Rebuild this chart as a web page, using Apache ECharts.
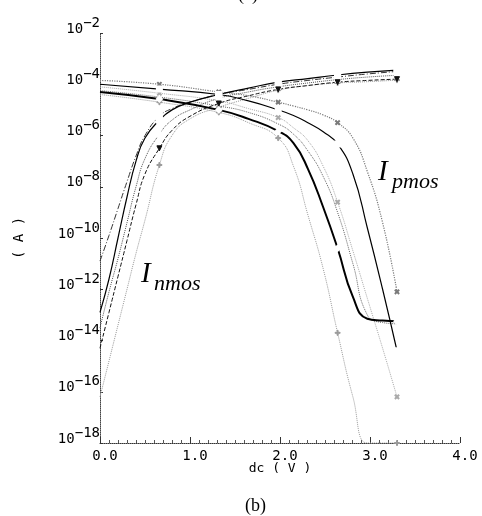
<!DOCTYPE html>
<html>
<head>
<meta charset="utf-8">
<script src="https://cdn.jsdelivr.net/npm/echarts@6/dist/echarts.min.js"></script>
<style>
  html, body { margin: 0; background: #fff; }
  #chart { width: 482px; height: 516px; }
</style>
</head>
<body>
<div id="chart"></div>
<script>
// dc sweep (V) and currents as log10(I / A)
const vN = [0, 0.1, 0.2, 0.3, 0.4, 0.5, 0.66, 0.8, 1.0, 1.32, 1.65, 1.98, 2.31, 2.64, 2.97, 3.3];
const vP = [0, 0.66, 1.32, 1.65, 1.98, 2.15, 2.31, 2.48, 2.64, 2.81, 2.97, 3.14, 3.3];
const markV = [0.66, 1.32, 1.98, 2.64, 3.3];

// nmos curves
const nA = [-10.9, -9.9, -8.85, -7.8, -6.8, -6.0, -5.25, -4.95, -4.7, -4.4, -4.2, -4.0, -3.85, -3.72, -3.6, -3.5];
const nB = [-12.9, -11.6, -10.0, -8.4, -7.0, -6.1, -5.4, -5.0, -4.7, -4.4, -4.15, -3.92, -3.78, -3.64, -3.53, -3.45];
const nC = [-13.5, -12.1, -10.8, -9.4, -8.0, -6.9, -5.95, -5.4, -5.0, -4.55, -4.3, -4.1, -3.95, -3.82, -3.72, -3.65];
const nD = [-14.3, -12.9, -11.5, -10.1, -8.7, -7.5, -6.5, -5.8, -5.25, -4.75, -4.45, -4.2, -4.05, -3.92, -3.85, -3.8];
const nE = [-16.2, -14.8, -13.4, -12.0, -10.6, -9.3, -7.15, -6.0, -5.35, -4.9, -4.55, -4.23, -4.05, -3.95, -3.9, -3.84];

// pmos curves
const p1 = [-4.4, -4.7, -5.1, -5.5, -6.1, -7.2, -9.1, -11.2, -13.7, -16.2, -18, -18, -18];
const p2 = [-4.3, -4.58, -5.0, -5.35, -5.83, -6.3, -7.3, -8.8, -10.4, -12.3, -13.15, -13.22, -13.25];
const p7 = [-4.25, -4.5, -4.85, -5.1, -5.55, -5.95, -6.6, -7.6, -9.0, -11.0, -13.0, -13.3, -13.35];
const p6 = [-4.1, -4.35, -4.65, -4.95, -5.3, -5.7, -6.2, -7.2, -8.6, -10.5, -12.35, -14.3, -16.2];
const p4 = [-4.0, -4.19, -4.4, -4.65, -5.0, -5.22, -5.5, -5.85, -6.33, -7.5, -9.6, -12.0, -14.4];
const p5 = [-3.85, -4.0, -4.3, -4.45, -4.7, -4.85, -5.0, -5.2, -5.5, -6.1, -7.4, -9.4, -12.1];

const PLUS = 'path://M4,0H6V4H10V6H6V10H4V6H0V4H4Z';

function curve(name, xs, ys, color, width, type, symbol, rot) {
  return {
    name: name,
    type: 'line',
    smooth: 0.5,
    symbol: symbol,
    symbolSize: 5,
    symbolRotate: rot || 0,
    itemStyle: { color: symbol.indexOf('empty') === 0 ? '#fff' : color, borderColor: color, borderWidth: 1 },
    lineStyle: { color: color, width: width, type: type },
    emphasis: { disabled: true },
    data: xs.map(function (v, i) {
      const d = { value: [v, ys[i]] };
      if (markV.indexOf(v) < 0) d.symbol = 'none';
      return d;
    })
  };
}

const chart = echarts.init(document.getElementById('chart'));
chart.setOption({
  backgroundColor: '#fff',
  animation: false,
  grid: { left: 100, right: 22, top: 33, bottom: 73 },
  xAxis: {
    type: 'value',
    min: 0,
    max: 4,
    interval: 1,
    name: 'dc ( V )',
    nameLocation: 'middle',
    nameGap: 19,
    nameMoveOverlap: false,
    nameTextStyle: { fontFamily: 'DejaVu Sans Mono', fontSize: 13, color: '#000' },
    axisLine: { lineStyle: { color: '#333', type: 'dotted' } },
    axisTick: { inside: true, length: 6, lineStyle: { color: '#333' } },
    minorTick: { show: true, splitNumber: 10, length: 3, lineStyle: { color: '#555' } },
    splitLine: { show: false },
    axisLabel: {
      margin: 6,
      padding: [0, 0, 0, 10],
      fontFamily: 'DejaVu Sans Mono',
      fontSize: 14,
      color: '#000',
      formatter: function (v) { return v.toFixed(1); }
    }
  },
  yAxis: {
    type: 'value',
    min: -18,
    max: -2,
    interval: 2,
    name: '( A )',
    nameLocation: 'middle',
    nameGap: 74,
    nameMoveOverlap: false,
    nameTextStyle: { fontFamily: 'DejaVu Sans Mono', fontSize: 14, color: '#000' },
    axisLine: { lineStyle: { color: '#444', type: 'dotted' } },
    axisTick: { inside: true, length: 3, lineStyle: { color: '#333' } },
    splitLine: { show: false },
    axisLabel: {
      margin: 0,
      padding: [0, 0, 14, 0],
      formatter: function (v) { return '{b|10}{s|\u2212' + Math.abs(v) + '}'; },
      rich: {
        b: { fontFamily: 'DejaVu Sans Mono', fontSize: 14, lineHeight: 20, verticalAlign: 'bottom', color: '#000' },
        s: { fontFamily: 'DejaVu Sans Mono', fontSize: 14, lineHeight: 14, verticalAlign: 'top', color: '#000' }
      }
    }
  },
  graphic: [
    { type: 'text', left: 238, top: -14, style: { text: '(a)', font: '18px "Liberation Serif"', fill: '#000' } },
    { type: 'text', left: 378, top: 158, style: { text: 'I', font: 'italic 29px "Liberation Serif"', fill: '#000' } },
    { type: 'text', left: 392, top: 171, style: { text: 'pmos', font: 'italic 22px "Liberation Serif"', fill: '#000' } },
    { type: 'text', left: 141, top: 260, style: { text: 'I', font: 'italic 29px "Liberation Serif"', fill: '#000' } },
    { type: 'text', left: 154, top: 273, style: { text: 'nmos', font: 'italic 22px "Liberation Serif"', fill: '#000' } },
    { type: 'text', left: 245, top: 497, style: { text: '(b)', font: '18px "Liberation Serif"', fill: '#000' } }
  ],
  series: [
    curve('nE', vN, nE, '#9a9a9a', 1, 'dotted', PLUS),
    curve('p1', vP, p1, '#9a9a9a', 1, 'dotted', PLUS),
    curve('p6', vP, p6, '#aaaaaa', 1, 'dotted', PLUS, 45),
    curve('p7', vP, p7, '#666666', 1, 'dotted', 'none'),
    curve('nC', vN, nC, '#555555', 1, 'dotted', 'emptyCircle'),
    curve('p5', vP, p5, '#7a7a7a', 1.2, 'dotted', PLUS, 45),
    curve('nA', vN, nA, '#333333', 1, [6, 2, 1, 2], 'emptyRect'),
    curve('nD', vN, nD, '#111111', 1, [4, 2], 'triangle', 180),
    curve('p2', vP, p2, '#000000', 2, 'solid', 'emptyDiamond'),
    curve('p4', vP, p4, '#000000', 1.2, 'solid', 'emptyRect'),
    curve('nB', vN, nB, '#000000', 1.2, 'solid', 'emptyRect')
  ]
});
</script>
</body>
</html>
